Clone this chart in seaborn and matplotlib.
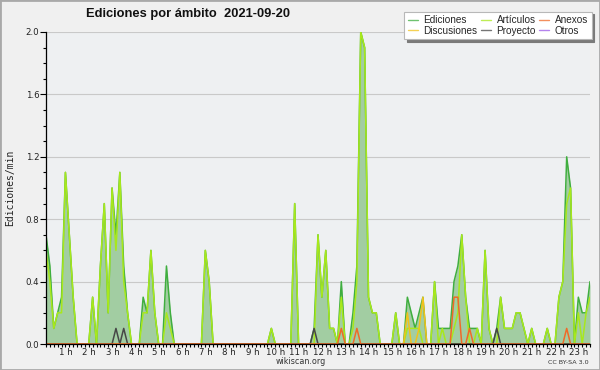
import numpy as np
import pandas as pd
import matplotlib
matplotlib.use("Agg")
import matplotlib.pyplot as plt
import matplotlib.transforms as mtransforms
from matplotlib.patches import Rectangle
from matplotlib.ticker import MultipleLocator, FixedLocator
import seaborn as sns

# ---- data: edits per minute, one value per 10-minute slot (slot 0 = 00:00) ----
ediciones = [
    0.7, 0.5, 0.1, 0.2, 0.3, 1.1,   # 0 h
    0.7, 0.3, 0, 0, 0, 0,           # 1 h
    0.3, 0, 0.5, 0.9, 0.2, 1.0,     # 2 h
    0.7, 1.1, 0.5, 0.2, 0, 0,       # 3 h
    0, 0.3, 0.2, 0.6, 0.2, 0,       # 4 h
    0, 0.5, 0.2, 0, 0, 0,           # 5 h
    0, 0, 0, 0, 0, 0.6,             # 6 h
    0.4, 0, 0, 0, 0, 0,             # 7 h
    0, 0, 0, 0, 0, 0,               # 8 h
    0, 0, 0, 0, 0.1, 0,             # 9 h
    0, 0, 0, 0, 0.9, 0,             # 10 h
    0, 0, 0, 0.1, 0.7, 0.3,         # 11 h
    0.6, 0.1, 0.1, 0, 0.4, 0,       # 12 h
    0, 0.2, 0.5, 2.0, 1.9, 0.3,     # 13 h
    0.2, 0.2, 0, 0, 0, 0,           # 14 h
    0.2, 0, 0, 0.3, 0.2, 0.1,       # 15 h
    0.2, 0.3, 0, 0, 0.4, 0.1,       # 16 h
    0.1, 0.1, 0.1, 0.4, 0.5, 0.7,   # 17 h
    0.3, 0.1, 0.1, 0.1, 0, 0.6,     # 18 h
    0.1, 0, 0.1, 0.3, 0.1, 0.1,     # 19 h
    0.1, 0.2, 0.2, 0.1, 0, 0.1,     # 20 h
    0, 0, 0, 0.1, 0, 0,             # 21 h
    0.3, 0.4, 1.2, 1.0, 0, 0.3,     # 22 h
    0.2, 0.2, 0.4,                  # 23 h
]
articulos = [
    0.6, 0.4, 0.1, 0.2, 0.2, 1.1,
    0.7, 0.3, 0, 0, 0, 0,
    0.3, 0, 0.5, 0.9, 0.2, 1.0,
    0.6, 1.1, 0.4, 0.2, 0, 0,
    0, 0.2, 0.2, 0.6, 0.2, 0,
    0, 0.2, 0.1, 0, 0, 0,
    0, 0, 0, 0, 0, 0.6,
    0.4, 0, 0, 0, 0, 0,
    0, 0, 0, 0, 0, 0,
    0, 0, 0, 0, 0.1, 0,
    0, 0, 0, 0, 0.9, 0,
    0, 0, 0, 0, 0.7, 0.3,
    0.6, 0.1, 0.1, 0, 0.3, 0,
    0, 0.1, 0.4, 2.0, 1.9, 0.3,
    0.2, 0.2, 0, 0, 0, 0,
    0.2, 0, 0, 0.1, 0.1, 0.1,
    0.1, 0, 0, 0, 0.4, 0,
    0.1, 0, 0, 0.1, 0.2, 0.7,
    0.3, 0, 0, 0.1, 0, 0.6,
    0.1, 0, 0, 0.3, 0.1, 0.1,
    0.1, 0.2, 0.2, 0.1, 0, 0.1,
    0, 0, 0, 0.1, 0, 0,
    0.3, 0.4, 0.9, 1.0, 0, 0.2,
    0, 0.2, 0.3,
]
n_slots = len(ediciones)
anexos = [0.0] * n_slots
for s, v in [(76, 0.1), (80, 0.1), (105, 0.3), (106, 0.3), (109, 0.1), (134, 0.1)]:
    anexos[s] = v
discusiones = [0.0] * n_slots
for s, v in [(93, 0.2), (96, 0.1), (97, 0.3)]:
    discusiones[s] = v
proyecto = [0.0] * n_slots
for s, v in [(18, 0.1), (20, 0.1), (69, 0.1), (116, 0.1)]:
    proyecto[s] = v
otros = [0.0] * n_slots

hour_ticks = list(range(1, 24))
hour_labels = [f"{h} h" for h in hour_ticks]
title = "Ediciones por ámbito  2021-09-20"

hours = np.arange(n_slots) / 6.0
series = {
    "Ediciones": ediciones, "Artículos": articulos, "Anexos": anexos,
    "Discusiones": discusiones, "Proyecto": proyecto, "Otros": otros,
}
df = pd.concat(
    [pd.DataFrame({"hora": hours, "valor": v, "ámbito": k}) for k, v in series.items()],
    ignore_index=True,
)

palette = {
    "Ediciones": "#3fae3f", "Artículos": "#a8e81c", "Anexos": "#f06a28",
    "Discusiones": "#f2c21b", "Proyecto": "#474747", "Otros": "#9b59e8",
}
draw_order = ["Otros", "Ediciones", "Artículos", "Discusiones", "Proyecto", "Anexos"]

sns.set_theme(style="white")
plt.rcParams["font.family"] = ["DejaVu Sans"]

W, H = 600, 370
fig = plt.figure(figsize=(6, 3.7), dpi=100, facecolor="#f0f0f0")
ax = fig.add_axes([46 / W, 26 / H, 544 / W, 312 / H])
ax.set_facecolor("#eef0f2")

ax.fill_between(hours, 0, ediciones, color="#a2cda2", lw=0, zorder=1)
sns.lineplot(data=df, x="hora", y="valor", hue="ámbito", hue_order=draw_order,
             palette=palette, linewidth=1.1, ax=ax, legend=True,
             estimator=None, sort=False, zorder=2)

ax.set_xlim(0, (n_slots - 1) / 6.0)
ax.set_ylim(0, 2.0)
ax.set_xlabel("")
ax.set_ylabel("")

# axes / ticks
for side in ("top", "right"):
    ax.spines[side].set_visible(False)
for side in ("left", "bottom"):
    ax.spines[side].set_color("black")
    ax.spines[side].set_linewidth(0.9)
    ax.spines[side].set_zorder(3)

ax.xaxis.set_major_locator(FixedLocator(hour_ticks))
ax.set_xticks(hour_ticks, hour_labels)
ax.xaxis.set_minor_locator(MultipleLocator(1 / 6))
ax.yaxis.set_major_locator(MultipleLocator(0.4))
ax.yaxis.set_minor_locator(MultipleLocator(0.1))
ax.yaxis.set_major_formatter(matplotlib.ticker.FormatStrFormatter("%.1f"))
ax.tick_params(axis="x", which="both", direction="out", length=2.2, width=0.8,
               color="black", labelsize=6.2, labelcolor="#222222", pad=0.8,
               bottom=True)
ax.tick_params(axis="y", which="major", direction="out", length=4.5, width=0.8,
               color="black", labelsize=6.2, labelcolor="#222222", pad=0.3, left=True)
ax.tick_params(axis="y", which="minor", direction="out", length=2.2, width=0.8,
               color="black", left=True)
off = mtransforms.ScaledTranslation(-3.5 / 100, 0, fig.dpi_scale_trans)
for lab in ax.get_xticklabels():
    lab.set_transform(lab.get_transform() + off)

ax.yaxis.grid(True, which="major", color="#c9c9c9", lw=0.8)
ax.xaxis.grid(False)
ax.set_axisbelow(True)

# legend
handles, labels = ax.get_legend_handles_labels()
hmap = dict(zip(labels, handles))
leg_order = ["Ediciones", "Discusiones", "Artículos", "Proyecto", "Anexos", "Otros"]
leg = ax.legend([hmap[k] for k in leg_order], leg_order, ncol=3,
                loc="upper left", bbox_to_anchor=(404 / W, 1 - 11.5 / H),
                bbox_transform=fig.transFigure,
                prop={"family": "Liberation Sans", "size": 7.2},
                frameon=True, fancybox=False, framealpha=1,
                facecolor="white", edgecolor="#b8b8b8",
                borderpad=0.35, labelspacing=0.05, handlelength=1.0,
                handletextpad=0.6, columnspacing=0.3, borderaxespad=0,
                shadow={"color": "#7a7a7a", "alpha": 1, "ox": 2, "oy": -2})
leg.get_frame().set_linewidth(0.8)
for line in leg.get_lines():
    line.set_linewidth(1.0)
    line.set_alpha(0.75)

# texts
fig.text(188 / W, 1 - 14 / H, title, ha="center", va="center",
         fontsize=9.3, fontweight="bold", family="Liberation Sans", color="#111111")
fig.text(10.5 / W, 1 - 188 / H, "Ediciones/min", rotation=90, ha="center",
         va="center", fontsize=7, family="DejaVu Sans Mono", color="#222222")
fig.text(300.5 / W, 1 - 361.5 / H, "wikiscan.org", ha="center", va="center",
         fontsize=5.8, color="#333333")
fig.text(589 / W, 1 - 363 / H, "CC BY-SA 3.0", ha="right", va="center",
         fontsize=4.6, color="#333333")

fig.patches.append(Rectangle((0, 0), 1, 1, transform=fig.transFigure, fill=False,
                             edgecolor="#a9a9a9", lw=2.0, zorder=10))

fig.savefig("out.png", dpi=100, facecolor=fig.get_facecolor())
